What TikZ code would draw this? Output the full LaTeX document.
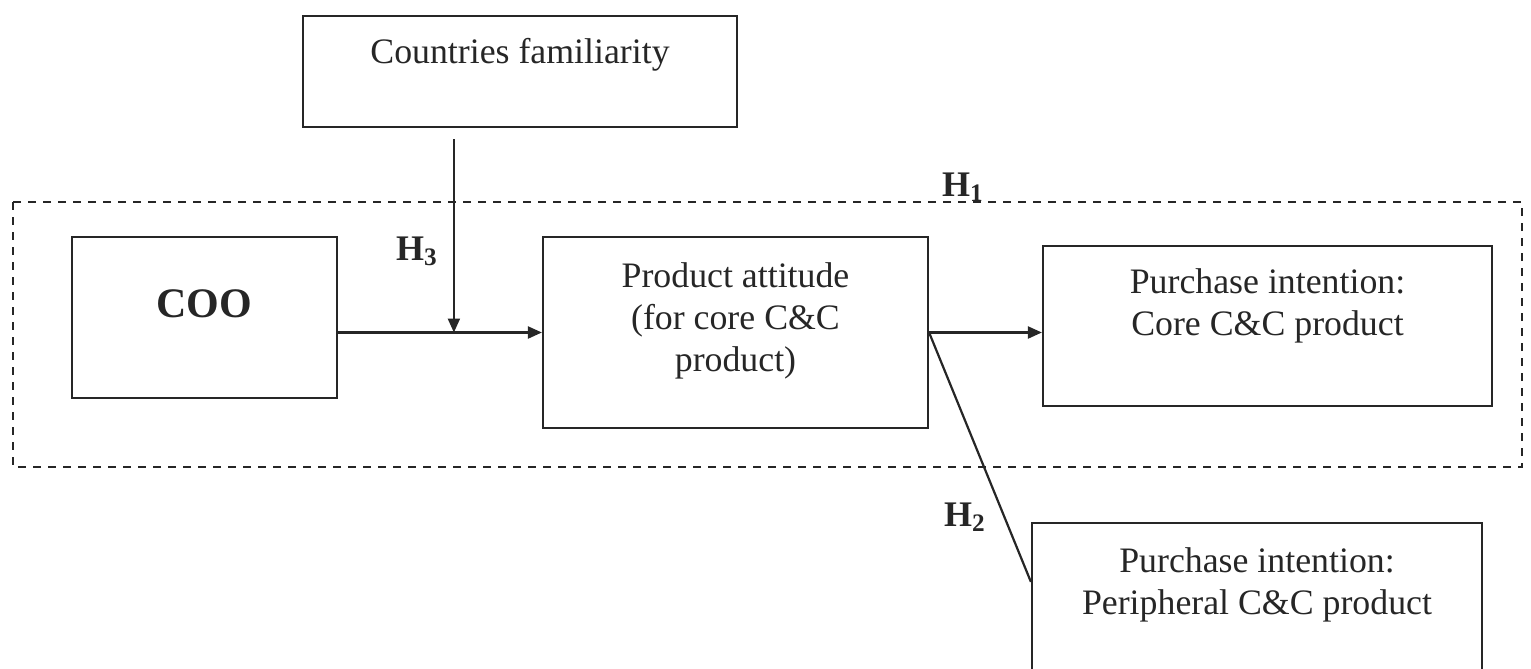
\documentclass[tikz,border=0pt]{standalone}
\usepackage{fontspec}
\setmainfont{Liberation Serif}
\usetikzlibrary{arrows.meta,calc}
\begin{document}
\begin{tikzpicture}[x=0.5pt,y=-0.5pt,color=black!85]
            \tikzset{
                box/.style={draw,line width=1.1pt,inner sep=0pt,align=center,font=\fontsize{17.9}{21}\selectfont},
                hyp/.style={font=\fontsize{18}{21}\selectfont\bfseries},
                link/.style={line width=1.1pt,-{Triangle[length=7pt,width=6pt]}},}
            \useasboundingbox (0,0) rectangle (1531,669);
            \clip (0,0) rectangle (1531,669);
            \node[box,minimum width=217pt,minimum height=55.5pt,text depth=20.5pt] (fam) at (520,71.5) {Countries familiarity};
            \node[box,minimum width=132.5pt,minimum height=80.5pt,text depth=13.8pt,font=\fontsize{21}{25}\selectfont\bfseries] (coo) at (204.5,317.5) {COO};
            \node[box,minimum width=192.5pt,minimum height=95.5pt,text depth=15.5pt] (att) at (735.5,332.5) {Product attitude\\(for core C\&C\\product)};
            \node[box,minimum width=224.5pt,minimum height=80pt,text depth=24pt] (core) at (1267.5,326) {Purchase intention:\\Core C\&C product};
            \node[box,minimum width=225pt,minimum height=95pt,text depth=37pt] (peri) at (1257,618) {Purchase intention:\\Peripheral C\&C product};
            % dashed frame round H1
            \draw [line width=1.1pt,dash pattern=on 4pt off 3.5pt] (13,202) rectangle (1522,467);
            \coordinate (src) at ($(fam.south west)+(152,11)$);
            \coordinate (mod) at (src |- att.west);
            \draw [link] (coo.east |- att.west) -- (att.west);
            \draw [link] (src) -- (mod);
            \draw [link] (att.east) -- (core.west |- att.east);
            \draw [line width=1.1pt] (att.east) -- ($(peri.north west)+(0,60)$);
            \node[hyp] (h1) at (963,187) {H\textsubscript{1}};
            \node[hyp] (h3) at (417,251) {H\textsubscript{3}};
            \node[hyp] (h2) at (965,517) {H\textsubscript{2}};
        \end{tikzpicture}
\end{document}
